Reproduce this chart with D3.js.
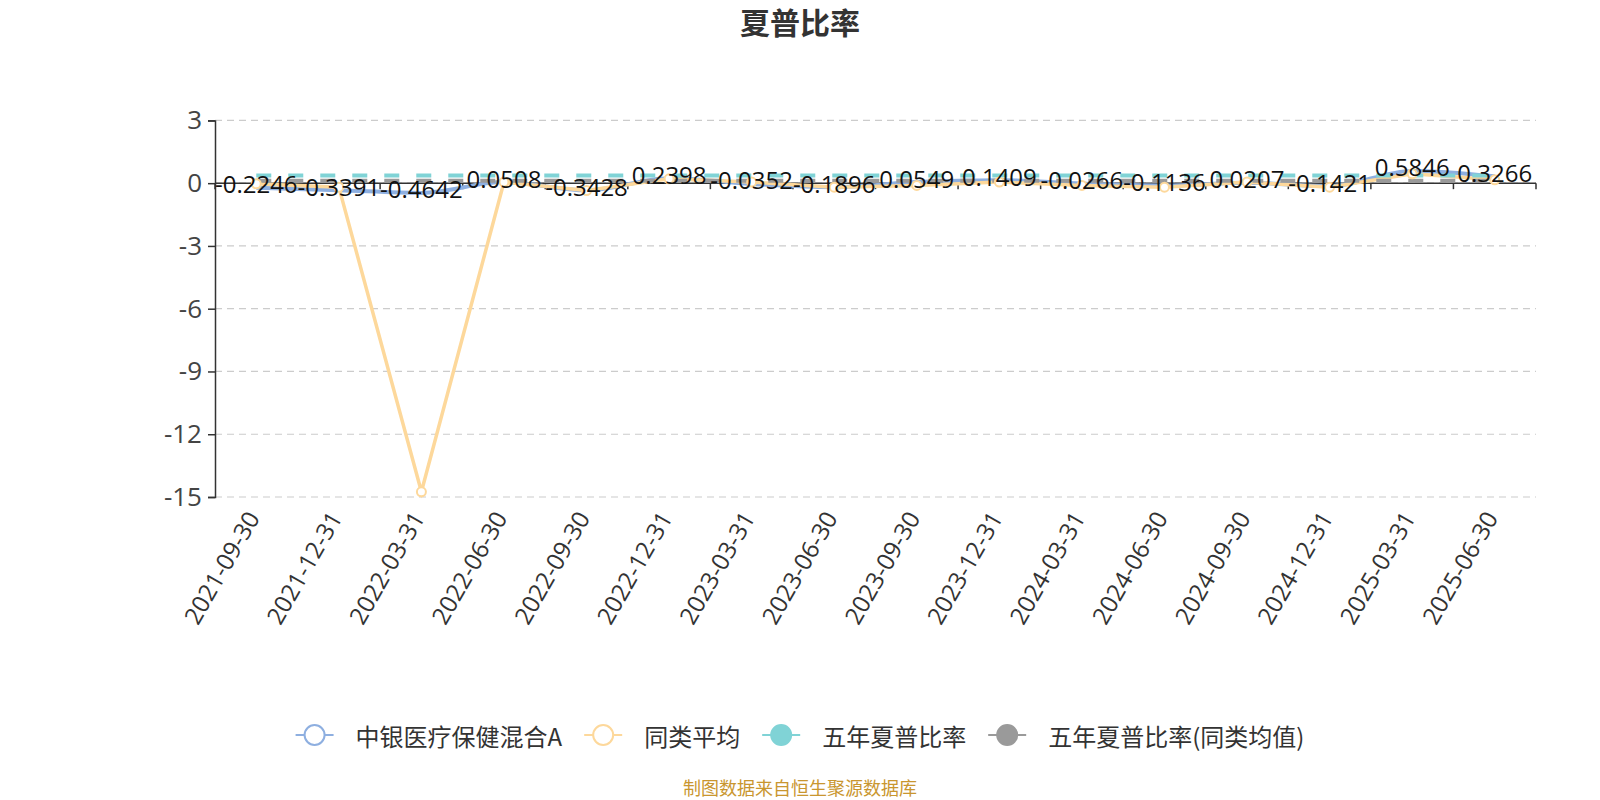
<!DOCTYPE html>
<html>
<head>
<meta charset="utf-8">
<script src="https://cdn.jsdelivr.net/npm/d3@7/dist/d3.min.js"></script>
<style>
  body { margin: 0; background: #fff; }
  svg { font-family: "Open Sans", "Noto Sans CJK SC", sans-serif; }
</style>
</head>
<body>
<div class="chart"></div>
<script>
// Data
let dates = ["2021-09-30", "2021-12-31", "2022-03-31", "2022-06-30", "2022-09-30",
  "2022-12-31", "2023-03-31", "2023-06-30", "2023-09-30", "2023-12-31",
  "2024-03-31", "2024-06-30", "2024-09-30", "2024-12-31", "2025-03-31", "2025-06-30"];
let fundValues = [-0.2246, -0.3391, -0.4642, 0.0508, -0.3428, 0.2398, -0.0352, -0.1896,
  0.0549, 0.1409, -0.0266, -0.1136, 0.0207, -0.1421, 0.5846, 0.3266];
let peerValues = [-0.03, -0.19, -14.75, 0.05, -0.35, 0.21, 0.05, -0.19,
  -0.11, 0.05, -0.11, -0.19, 0.05, -0.19, 0.45, 0.16];
let fiveYearValues = [0.37, 0.37, 0.37, 0.37, 0.37, 0.37, 0.37, 0.37,
  0.37, 0.37, 0.37, 0.37, 0.37, 0.37, 0.37, 0.37];
let fiveYearPeerValues = [0.12, 0.12, 0.12, 0.12, 0.12, 0.12, 0.12, 0.12,
  0.12, 0.12, 0.12, 0.12, 0.12, 0.12, 0.12, 0.12];
let yTicks = [3, 0, -3, -6, -9, -12, -15];
let seriesNames = ["中银医疗保健混合A", "同类平均", "五年夏普比率", "五年夏普比率(同类均值)"];
let colors = ["#8eafe0", "#fdd89b", "#80d3d6", "#9a9a9a"];

let width = 1600;
let height = 800;
let gridLeft = 215, gridRight = 1536, gridTop = 120.4, gridBottom = 497;
let cjk = "'Noto Sans CJK SC', sans-serif";

let svg = d3.select(".chart").append("svg")
  .attr("width", width)
  .attr("height", height);

let x = d3.scaleBand().domain(dates).range([gridLeft, gridRight]);
let y = d3.scaleLinear().domain([-15, 3]).range([gridBottom, gridTop]);
let cx = (d) => x(d) + x.bandwidth() / 2;

// Title
svg.append("text")
  .attr("x", 800).attr("y", 34)
  .attr("text-anchor", "middle")
  .attr("font-family", cjk)
  .attr("font-size", 30).attr("font-weight", "bold")
  .attr("fill", "#333")
  .text("夏普比率");

// Grid lines
svg.append("g").selectAll("line")
  .data(yTicks)
  .enter().append("line")
  .attr("x1", gridLeft).attr("x2", gridRight)
  .attr("y1", (d) => y(d)).attr("y2", (d) => y(d))
  .attr("stroke", "#ccc").attr("stroke-width", 1.2)
  .attr("stroke-dasharray", "7,5");

// Y axis
let yAxis = svg.append("g")
  .attr("transform", `translate(${gridLeft},0)`)
  .call(d3.axisLeft(y).tickValues(yTicks).tickFormat((d) => String(d))
    .tickSize(7).tickPadding(6));
yAxis.select(".domain").attr("stroke", "#333").attr("stroke-width", 1.5);
yAxis.selectAll(".tick line").attr("stroke", "#333").attr("stroke-width", 1.5);
yAxis.selectAll(".tick text")
  .attr("font-size", 26).attr("fill", "#444")
  .attr("font-family", "Open Sans, sans-serif");

// X axis on zero line
let xAxis = svg.append("g")
  .attr("transform", `translate(0,${y(0)})`);
xAxis.append("line")
  .attr("x1", gridLeft).attr("x2", gridRight)
  .attr("stroke", "#333").attr("stroke-width", 1.5);
xAxis.selectAll(".xt")
  .data(d3.range(dates.length + 1))
  .enter().append("line")
  .attr("class", "xt")
  .attr("x1", (i) => gridLeft + i * x.bandwidth())
  .attr("x2", (i) => gridLeft + i * x.bandwidth())
  .attr("y1", 0).attr("y2", 6)
  .attr("stroke", "#333").attr("stroke-width", 1.5);

// X labels at bottom
svg.append("g").selectAll("text")
  .data(dates)
  .enter().append("text")
  .attr("transform", (d) => `translate(${cx(d) - 4},${gridBottom + 16}) rotate(-60)`)
  .attr("text-anchor", "end")
  .attr("dominant-baseline", "central")
  .attr("font-size", 24).attr("fill", "#333")
  .text((d) => d);

// Lines
let smoothLine = d3.line()
  .x((d, i) => cx(dates[i]))
  .y((d) => y(d))
  .curve(d3.curveMonotoneX);
let straightLine = d3.line()
  .x((d, i) => cx(dates[i]))
  .y((d) => y(d));

svg.append("path")
  .datum(fundValues)
  .attr("d", smoothLine)
  .attr("fill", "none").attr("stroke", colors[0]).attr("stroke-width", 4);

svg.append("path")
  .datum(peerValues)
  .attr("d", straightLine)
  .attr("fill", "none").attr("stroke", colors[1]).attr("stroke-width", 3.5);

svg.append("path")
  .datum(fiveYearValues)
  .attr("d", straightLine)
  .attr("fill", "none").attr("stroke", colors[2]).attr("stroke-width", 4)
  .attr("stroke-dasharray", "15,17");

svg.append("path")
  .datum(fiveYearPeerValues)
  .attr("d", straightLine)
  .attr("fill", "none").attr("stroke", colors[3]).attr("stroke-width", 4)
  .attr("stroke-dasharray", "15,17");

// Peer symbols
svg.append("g").selectAll("circle")
  .data(peerValues)
  .enter().append("circle")
  .attr("cx", (d, i) => cx(dates[i]))
  .attr("cy", (d) => y(d))
  .attr("r", 4.5)
  .attr("fill", "#fff").attr("stroke", colors[1]).attr("stroke-width", 2);

// Fund labels
svg.append("g").selectAll("text")
  .data(fundValues)
  .enter().append("text")
  .attr("x", (d, i) => cx(dates[i]))
  .attr("y", (d) => y(d) - 4)
  .attr("text-anchor", "middle")
  .attr("dominant-baseline", "central")
  .attr("font-size", 24).attr("fill", "#111")
  .text((d) => d.toFixed(4));

// Legend
let legend = svg.append("g");
let lx = 0;
seriesNames.forEach(function (name, i) {
  let g = legend.append("g");
  g.append("line")
    .attr("x1", 0).attr("x2", 38)
    .attr("y1", 0).attr("y2", 0)
    .attr("stroke", colors[i]).attr("stroke-width", 2);
  g.append("circle")
    .attr("cx", 19).attr("cy", 0).attr("r", 10)
    .attr("fill", i < 2 ? "#fff" : colors[i])
    .attr("stroke", colors[i]).attr("stroke-width", 2);
  let t = g.append("text")
    .attr("x", 60).attr("y", 0)
    .attr("dominant-baseline", "central")
    .attr("font-family", cjk)
    .attr("font-size", 24).attr("fill", "#333")
    .text(name);
  let w = 60 + t.node().getComputedTextLength();
  g.attr("transform", `translate(${lx},735)`);
  lx += w + 22;
});
let legendWidth = lx - 22;
legend.attr("transform", `translate(${800 - legendWidth / 2},0)`);

// Footer
svg.append("text")
  .attr("x", 800).attr("y", 795)
  .attr("text-anchor", "middle")
  .attr("font-family", cjk)
  .attr("font-size", 18).attr("fill", "#c9962f")
  .text("制图数据来自恒生聚源数据库");
</script>
</body>
</html>
